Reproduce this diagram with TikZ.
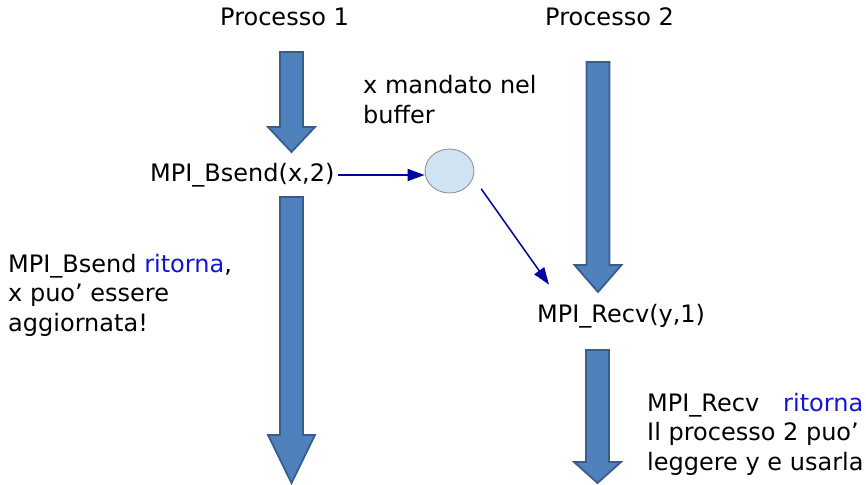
\documentclass[tikz,border=0pt]{standalone}
\usepackage{fontspec}
\setmainfont{DejaVu Sans}
\usetikzlibrary{arrows.meta,shapes.geometric,calc}

\definecolor{blockfill}{RGB}{79,129,189}
\definecolor{blockline}{RGB}{56,93,138}
\definecolor{msgline}{RGB}{0,0,160}
\definecolor{buffill}{RGB}{207,227,242}
\definecolor{bufline}{RGB}{140,140,140}
\definecolor{retblue}{RGB}{20,20,210}

% downward block arrow: centre x, top of shaft, start of head, tip
\newcommand\downblock[4]{%
  \draw[blockarrow] (#1-11.5,#2) -- (#1+11.5,#2) -- (#1+11.5,#3) -- (#1+23.5,#3)
    -- (#1,#4) -- (#1-23.5,#3) -- (#1-11.5,#3) -- cycle;}

\begin{document}
\begin{tikzpicture}[x=1pt,y=-1pt,
  txt/.style={inner sep=0pt,anchor=base west,align=left,
    font=\fontsize{24}{29.2}\selectfont},
  blockarrow/.style={fill=blockfill,draw=blockline,line width=1.8pt,line join=miter},
  msg/.style={draw=msgline,line width=1.5pt,-{Triangle[length=17pt,width=12pt]}},
  buffer/.style={ellipse,fill=buffill,draw=bufline,line width=0.8pt,
    minimum width=49pt,minimum height=44pt,inner sep=0pt}]
\useasboundingbox (0,0) rectangle (866,484);

% process headings
\node[txt] (p1) at (220,26) {Processo 1};
\node[txt] (p2) at (545,26) {Processo 2};

% flow of process 1 (multi-line notes are placed by their last baseline)
\downblock{291.5}{52}{127}{152}
\node[txt] (bsend) at (150,181) {MPI\_Bsend(x,2)};
\downblock{291.5}{197}{435}{483}
\node[txt] (bnote) at (8,331) {MPI\_Bsend \textcolor{retblue}{ritorna},\\x puo’ essere\\aggiornata!};

% flow of process 2
\downblock{598}{62}{265}{292}
\node[txt] (recv) at (537,322) {MPI\_Recv(y,1)};
\downblock{597.5}{350}{462}{483}
\node[txt] (rnote) at (647,470) {MPI\_Recv\hspace{24pt}\textcolor{retblue}{ritorna}\\Il processo 2 puo’\\leggere y e usarla};

% the buffer and the messages
\node[buffer] (buf) at (449.5,171) {};
\node[txt] (bufnote) at (363,123) {x mandato nel\\buffer};

\coordinate (bufin) at ($(buf.west)+(0,4)$);
\draw[msg] ([xshift=3pt]bsend.east |- bufin) -- (bufin);
\coordinate (bufout) at ($(buf.-35)+(12,4)$);
\coordinate (recvin) at ($(recv.north west)+(12,-19)$);
\draw[msg] (bufout) -- (recvin);
\end{tikzpicture}
\end{document}
